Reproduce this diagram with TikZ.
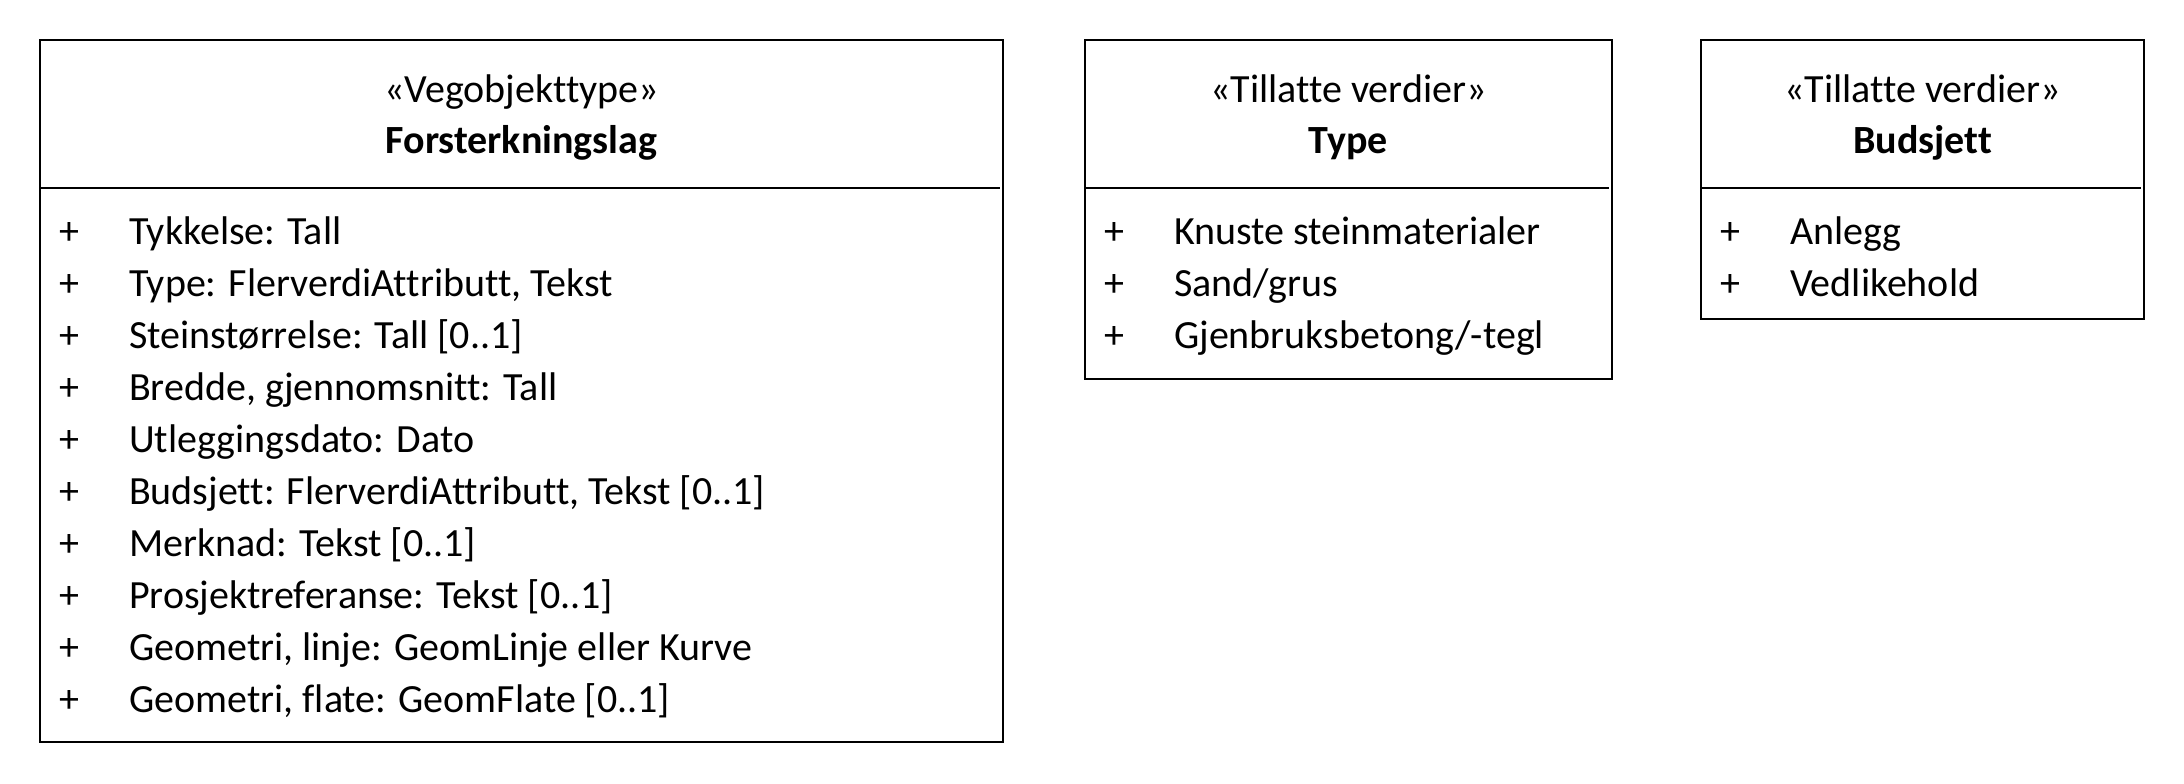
\documentclass[tikz,border=0pt]{standalone}
\usepackage{fontspec}
\setmainfont{Carlito}[Ligatures=NoCommon]
\begin{document}
\begin{tikzpicture}[x=1pt,y=-1pt,
  umlbox/.style={draw=black, line width=1.6pt, rectangle, anchor=north west,
                 inner sep=0pt, outer sep=0pt},
  divider/.style={draw=black, line width=1.6pt},
  txt/.style={inner sep=0pt, font=\fontsize{40}{48}\selectfont},
  title/.style={txt, anchor=base},
  stname/.style={txt, anchor=base, font=\fontsize{40}{48}\selectfont\bfseries},
  plus/.style={txt, anchor=base},
  attr/.style={txt, anchor=base west}
]
\useasboundingbox (0,0) rectangle (2184,784);

% ---- Forsterkningslag ----
\node[umlbox, minimum width=963pt, minimum height=702pt] (forst) at (40,40) {};
\coordinate (forst-dl) at (40,188);
\coordinate (forst-dr) at (1000,188);
\draw[divider] (forst-dl) -- (forst-dr);
\node[title] (forst-st) at (521.5,102.5) {«Vegobjekttype»};
\node[stname] (forst-nm) at (521.5,153.5) {Forsterkningslag};
\foreach \t [count=\i from 0] in {
  {Tykkelse: Tall},
  {Type: FlerverdiAttributt, Tekst},
  {Steinstørrelse: Tall [0..1]},
  {Bredde, gjennomsnitt: Tall},
  {Utleggingsdato: Dato},
  {Budsjett: FlerverdiAttributt, Tekst [0..1]},
  {Merknad: Tekst [0..1]},
  {Prosjektreferanse: Tekst [0..1]},
  {Geometri, linje: GeomLinje eller Kurve},
  {Geometri, flate: GeomFlate [0..1]}}{
  \node[plus] (forst-p\i) at (69,244+52*\i) {+};
  \node[attr] (forst-a\i) at (129,244+52*\i) {\t};
}

% ---- Type ----
\node[umlbox, minimum width=527pt, minimum height=339pt] (type) at (1085,40) {};
\coordinate (type-dl) at (1085,188);
\coordinate (type-dr) at (1609,188);
\draw[divider] (type-dl) -- (type-dr);
\node[title] (type-st) at (1348.5,102.5) {«Tillatte verdier»};
\node[stname] (type-nm) at (1348.5,153.5) {Type};
\foreach \t [count=\i from 0] in {
  {Knuste steinmaterialer},
  {Sand/grus},
  {Gjenbruksbetong/-tegl}}{
  \node[plus] (type-p\i) at (1114,244+52*\i) {+};
  \node[attr] (type-a\i) at (1174,244+52*\i) {\t};
}

% ---- Budsjett ----
\node[umlbox, minimum width=443pt, minimum height=279pt] (bud) at (1701,40) {};
\coordinate (bud-dl) at (1701,188);
\coordinate (bud-dr) at (2141,188);
\draw[divider] (bud-dl) -- (bud-dr);
\node[title] (bud-st) at (1922.5,102.5) {«Tillatte verdier»};
\node[stname] (bud-nm) at (1922.5,153.5) {Budsjett};
\foreach \t [count=\i from 0] in {
  {Anlegg},
  {Vedlikehold}}{
  \node[plus] (bud-p\i) at (1730,244+52*\i) {+};
  \node[attr] (bud-a\i) at (1790,244+52*\i) {\t};
}
\end{tikzpicture}
\end{document}
